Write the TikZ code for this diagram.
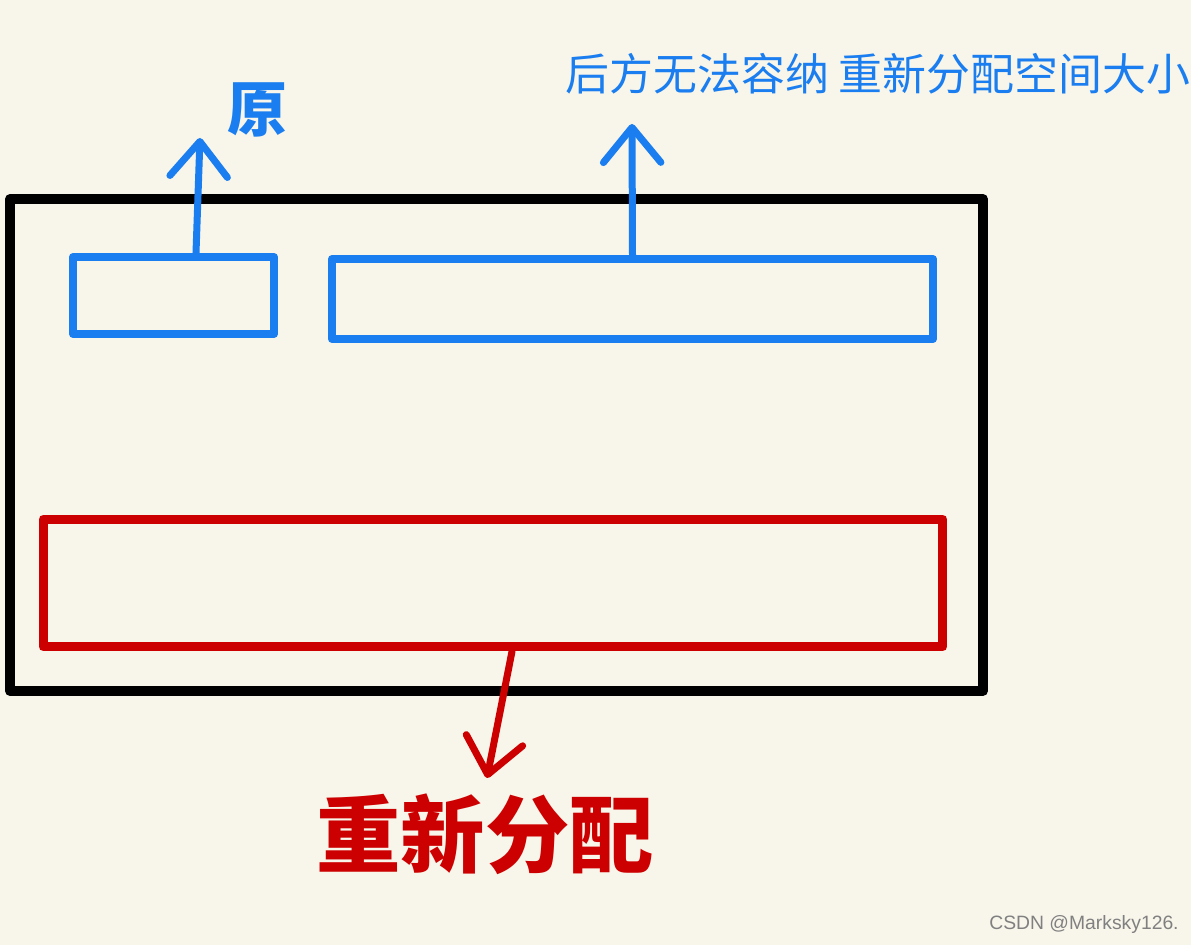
\documentclass[tikz,border=0pt]{standalone}
\usepackage{fontspec}
\setmainfont{Liberation Sans}
\newfontfamily\cjk{Noto Sans CJK SC}
\usetikzlibrary{arrows.meta}
\definecolor{paper}{HTML}{F8F5EA}
\definecolor{penblue}{HTML}{1A7EF0}
\definecolor{penred}{HTML}{CC0000}
\begin{document}
\begin{tikzpicture}[
    x=0.02cm, y=-0.02cm,
    bluebox/.style={draw=penblue, line width=0.16cm, line join=round},
    redbox/.style={draw=penred, line width=0.18cm, line join=round},
    pen/.style={line width=0.14cm, line cap=round,
        -{Straight Barb[length=0.7cm, width=1.15cm, round, line width=0.14cm]}}
]

% Paper
\fill[paper] (0,0) rectangle (1191,945);
\useasboundingbox (0,0) rectangle (1191,945);

% Outer block
\node[draw=black, line width=0.2cm, line join=round,
      minimum width=19.46cm, minimum height=9.84cm] (mem) at (496.5,445) {};

% Old space and the space after it
\node[bluebox, minimum width=4.02cm, minimum height=1.54cm] (old) at (173.5,295.5) {};
\node[bluebox, minimum width=12.02cm, minimum height=1.6cm] (next) at (632.5,299) {};

% Reallocated space
\node[redbox, minimum width=18cm, minimum height=2.56cm] (new) at (493,583) {};

% Labels
\node[penblue, font=\cjk\bfseries\fontsize{34}{34}\selectfont] (oldlbl) at (257,110) {原};
\node[penblue, font=\cjk\fontsize{25}{25}\selectfont] (nextlbl) at (878,74) {后方无法容纳\ 重新分配空间大小};
\node[penred, font=\cjk\bfseries\fontsize{48}{48}\selectfont] (newlbl) at (485,834) {重新分配};
\node[gray, font=\fontsize{11}{11}\selectfont] (mark) at (1084,925) {CSDN @Marksky126.};

% Arrow ends
\coordinate (oldtip) at (200,138);
\coordinate (nexttip) at (632,124);
\coordinate (newtip) at (487,778);

% Arrows
\draw[pen, penblue] ([xshift=0.45cm]old.north) -- (oldtip);
\draw[pen, penblue] (next.north) -- (nexttip);
\draw[pen, penred] ([xshift=0.38cm]new.south) -- (newtip);

\end{tikzpicture}
\end{document}
